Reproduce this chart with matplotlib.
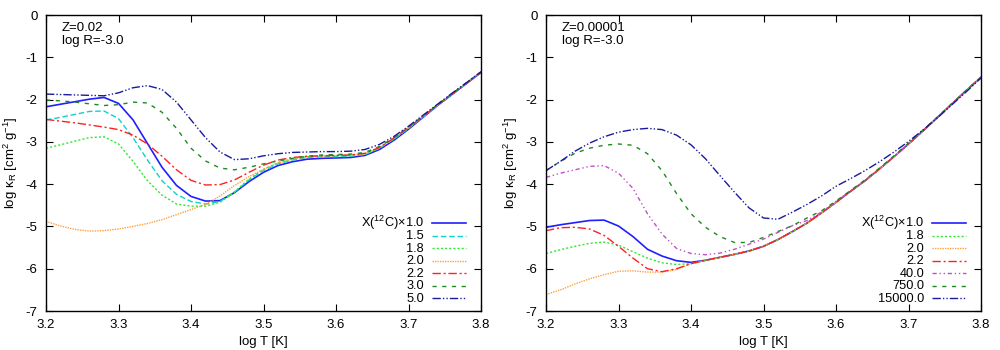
import matplotlib
matplotlib.use("Agg")
import matplotlib.pyplot as plt

plt.rcParams['font.family'] = ['Liberation Sans', 'DejaVu Sans']
plt.rcParams['axes.unicode_minus'] = False
plt.rcParams['mathtext.fontset'] = 'custom'
plt.rcParams['mathtext.rm'] = 'Liberation Sans'
plt.rcParams['mathtext.it'] = 'Liberation Sans:italic'

# log T grid (shared by both panels)
logT = [3.20, 3.22, 3.24, 3.26, 3.28, 3.30, 3.32, 3.34, 3.36, 3.38, 3.40,
        3.42, 3.44, 3.46, 3.48, 3.50, 3.52, 3.54, 3.56, 3.58, 3.60,
        3.62, 3.64, 3.66, 3.68, 3.70, 3.72, 3.74, 3.76, 3.78, 3.80]

# ---- Left panel: Z=0.02 ----
left_labels = ["X($^{12}$C)\u00d71.0", "1.5", "1.8", "2.0", "2.2", "3.0", "5.0"]
left_k10 = [-2.17, -2.11, -2.05, -1.99, -1.95, -2.09, -2.48, -3.04, -3.60, -4.03, -4.29,
            -4.40, -4.39, -4.20, -3.94, -3.72, -3.56, -3.47, -3.41, -3.39, -3.38,
            -3.37, -3.32, -3.18, -2.96, -2.70, -2.42, -2.14, -1.88, -1.62, -1.36]
left_k15 = [-2.48, -2.42, -2.35, -2.28, -2.27, -2.45, -2.90, -3.43, -3.92, -4.24, -4.41,
            -4.47, -4.41, -4.19, -3.90, -3.68, -3.52, -3.43, -3.37, -3.35, -3.35,
            -3.34, -3.30, -3.15, -2.93, -2.68, -2.41, -2.13, -1.87, -1.61, -1.35]
left_k18 = [-3.15, -3.07, -2.98, -2.90, -2.88, -3.05, -3.46, -3.92, -4.26, -4.47, -4.52,
            -4.52, -4.43, -4.18, -3.88, -3.65, -3.49, -3.40, -3.35, -3.33, -3.33,
            -3.32, -3.29, -3.14, -2.92, -2.67, -2.40, -2.13, -1.87, -1.61, -1.35]
left_k20 = [-4.88, -4.99, -5.07, -5.11, -5.10, -5.06, -5.00, -4.93, -4.84, -4.72, -4.60,
            -4.48, -4.28, -4.03, -3.82, -3.65, -3.50, -3.41, -3.36, -3.33, -3.32,
            -3.31, -3.28, -3.14, -2.92, -2.67, -2.40, -2.13, -1.87, -1.61, -1.35]
left_k22 = [-2.47, -2.51, -2.55, -2.60, -2.65, -2.71, -2.84, -3.05, -3.34, -3.66, -3.91,
            -4.02, -4.01, -3.90, -3.72, -3.55, -3.43, -3.37, -3.34, -3.33, -3.32,
            -3.31, -3.27, -3.13, -2.91, -2.66, -2.40, -2.13, -1.87, -1.61, -1.35]
left_k30 = [-2.01, -2.03, -2.06, -2.10, -2.14, -2.12, -2.06, -2.08, -2.30, -2.68, -3.15,
            -3.45, -3.62, -3.66, -3.60, -3.52, -3.45, -3.39, -3.34, -3.31, -3.30,
            -3.29, -3.25, -3.11, -2.90, -2.65, -2.39, -2.12, -1.86, -1.60, -1.35]
left_k50 = [-1.87, -1.88, -1.89, -1.90, -1.91, -1.84, -1.72, -1.67, -1.76, -2.06, -2.48,
            -2.90, -3.24, -3.42, -3.40, -3.33, -3.28, -3.25, -3.24, -3.23, -3.23,
            -3.22, -3.18, -3.06, -2.87, -2.63, -2.37, -2.11, -1.85, -1.60, -1.34]
left_series = [left_k10, left_k15, left_k18, left_k20, left_k22, left_k30, left_k50]

# ---- Right panel: Z=0.00001 ----
right_labels = ["X($^{12}$C)\u00d71.0", "1.8", "2.0", "2.2", "40.0", "750.0", "15000.0"]
right_k10 = [-5.02, -4.96, -4.91, -4.86, -4.85, -4.99, -5.24, -5.54, -5.70, -5.81, -5.85,
             -5.80, -5.73, -5.66, -5.58, -5.47, -5.31, -5.12, -4.92, -4.68, -4.43,
             -4.17, -3.92, -3.64, -3.35, -3.05, -2.74, -2.42, -2.10, -1.78, -1.47]
right_k18 = [-5.64, -5.55, -5.47, -5.40, -5.37, -5.44, -5.60, -5.75, -5.86, -5.90, -5.88,
             -5.81, -5.73, -5.66, -5.58, -5.47, -5.31, -5.12, -4.92, -4.68, -4.43,
             -4.17, -3.92, -3.64, -3.35, -3.05, -2.74, -2.42, -2.10, -1.78, -1.47]
right_k20 = [-6.61, -6.50, -6.36, -6.24, -6.14, -6.06, -6.05, -6.08, -6.08, -6.02, -5.88,
             -5.80, -5.73, -5.66, -5.58, -5.47, -5.31, -5.12, -4.92, -4.68, -4.43,
             -4.17, -3.92, -3.64, -3.35, -3.05, -2.74, -2.42, -2.10, -1.78, -1.47]
right_k22 = [-5.10, -5.03, -5.02, -5.06, -5.21, -5.47, -5.75, -6.00, -6.07, -6.00, -5.88,
             -5.80, -5.73, -5.66, -5.58, -5.47, -5.31, -5.12, -4.92, -4.68, -4.43,
             -4.17, -3.92, -3.64, -3.35, -3.05, -2.74, -2.42, -2.10, -1.78, -1.47]
right_k40 = [-3.84, -3.74, -3.66, -3.58, -3.56, -3.74, -4.10, -4.70, -5.18, -5.52, -5.64,
             -5.67, -5.63, -5.54, -5.42, -5.30, -5.14, -4.98, -4.86, -4.66, -4.41,
             -4.16, -3.91, -3.63, -3.34, -3.04, -2.73, -2.42, -2.10, -1.78, -1.47]
right_k750 = [-3.68, -3.46, -3.27, -3.15, -3.08, -3.05, -3.08, -3.28, -3.68, -4.22, -4.70,
              -5.02, -5.24, -5.38, -5.38, -5.26, -5.12, -4.98, -4.80, -4.63, -4.40,
              -4.15, -3.90, -3.62, -3.33, -3.03, -2.72, -2.41, -2.09, -1.78, -1.47]
right_k15000 = [-3.68, -3.46, -3.22, -3.03, -2.88, -2.77, -2.71, -2.68, -2.71, -2.84, -3.07,
                -3.40, -3.80, -4.19, -4.56, -4.80, -4.83, -4.66, -4.48, -4.28, -4.05,
                -3.87, -3.68, -3.47, -3.24, -2.99, -2.72, -2.43, -2.12, -1.81, -1.49]
right_series = [right_k10, right_k18, right_k20, right_k22, right_k40, right_k750, right_k15000]

# styles
ST = {
    "1.0": dict(color="#1f1fff", lw=1.2, ls="-"),
    "1.5": dict(color="#10d0d0", lw=1.0, ls=(0, (4, 2))),
    "1.8": dict(color="#30e830", lw=1.0, ls=(0, (1.5, 1.5))),
    "2.0": dict(color="#ffa040", lw=1.0, ls=(0, (1, 0.8))),
    "2.2": dict(color="#ff2020", lw=1.0, ls=(0, (6, 2, 1.5, 2))),
    "3.0": dict(color="#1e8a1e", lw=1.0, ls=(0, (3, 4))),
    "5.0": dict(color="#1a1a9c", lw=1.0, ls=(0, (6, 1.5, 1, 1.5, 1, 1.5))),
    "40.0": dict(color="#c050c8", lw=1.0, ls=(0, (3, 2, 1, 2, 1, 2))),
}
left_styles = [ST["1.0"], ST["1.5"], ST["1.8"], ST["2.0"], ST["2.2"], ST["3.0"], ST["5.0"]]
right_styles = [ST["1.0"], ST["1.8"], ST["2.0"], ST["2.2"], ST["40.0"], ST["3.0"], ST["5.0"]]

fig = plt.figure(figsize=(10, 3.5), dpi=100)
axL = fig.add_axes([0.046, 0.1114, 0.435, 0.8457])
axR = fig.add_axes([0.546, 0.1114, 0.435, 0.8457])

def draw(ax, series, labels, styles, title):
    for y, st in zip(series, styles):
        ax.plot(logT, y, **st)
    ax.set_xlim(3.2, 3.8)
    ax.set_ylim(-7, 0)
    ax.set_xticks([3.2, 3.3, 3.4, 3.5, 3.6, 3.7, 3.8])
    ax.set_xticklabels(["3.2", "3.3", "3.4", "3.5", "3.6", "3.7", "3.8"])
    ax.set_yticks([0, -1, -2, -3, -4, -5, -6, -7])
    ax.set_yticklabels(["0", "-1", "-2", "-3", "-4", "-5", "-6", "-7"])
    ax.tick_params(direction="in", top=True, right=True, length=5, width=0.8,
                   labelsize=9.5, pad=6)
    for s in ax.spines.values():
        s.set_linewidth(1.0)
    ax.set_xlabel("log T [K]", fontsize=9.5, labelpad=3)
    ax.set_ylabel("log \u03ba$_{\\rm R}$ [cm$^2$ g$^{-1}$]", fontsize=9.5, labelpad=4)
    ax.text(0.037, 0.975, title, transform=ax.transAxes, ha="left", va="top",
            fontsize=9.5, linespacing=1.05)
    # legend (gnuplot style, right-aligned labels)
    y0 = 0.285
    dy = 0.0422
    for i, (lab, st) in enumerate(zip(labels, styles)):
        yy = y0 - i * dy
        ax.text(0.869, yy, lab, transform=ax.transAxes, ha="right",
                va="baseline", fontsize=9.2)
        ax.plot([0.887, 0.966], [yy + 0.012, yy + 0.012], transform=ax.transAxes, **st)

draw(axL, left_series, left_labels, left_styles, "Z=0.02\nlog R=-3.0")
draw(axR, right_series, right_labels, right_styles, "Z=0.00001\nlog R=-3.0")

fig.savefig("out.png", dpi=100)
